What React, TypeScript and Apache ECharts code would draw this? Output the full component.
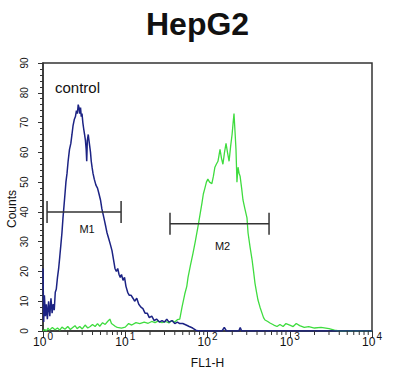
import React, { useEffect, useRef } from "react";
import * as echarts from "echarts";

const FONT = "'Liberation Sans', Arial, sans-serif";

const titleText = "HepG2";
const xAxisName = "FL1-H";
const yAxisName = "Counts";
const controlLabel = "control";

// [FL1-H channel value, counts]
const controlSeries: number[][] = [
  [1.0, 21], [1.02, 3], [1.04, 12], [1.07, 5], [1.1, 9], [1.13, 4], [1.17, 10], [1.21, 5],
  [1.25, 11], [1.29, 6], [1.33, 9], [1.37, 7], [1.41, 13], [1.45, 14], [1.5, 18], [1.55, 21],
  [1.6, 25], [1.65, 29], [1.7, 33], [1.75, 38], [1.8, 42], [1.85, 46], [1.9, 50], [1.96, 53],
  [2.02, 57], [2.1, 61], [2.18, 63], [2.25, 66], [2.32, 69], [2.4, 71], [2.48, 72], [2.55, 74],
  [2.62, 73], [2.68, 76], [2.74, 75], [2.8, 73], [2.86, 75], [2.92, 72], [2.98, 73], [3.05, 70],
  [3.12, 68], [3.2, 66], [3.28, 64], [3.35, 61], [3.4, 57], [3.46, 64], [3.55, 66], [3.62, 64],
  [3.7, 62], [3.78, 60], [3.86, 57], [3.95, 55], [4.05, 53], [4.2, 51], [4.4, 49], [4.6, 48],
  [4.8, 46], [5.0, 44], [5.2, 41], [5.4, 39], [5.6, 37], [5.8, 35], [6.0, 33], [6.3, 31],
  [6.6, 29], [6.9, 27], [7.2, 24], [7.5, 21], [7.8, 20], [8.1, 21], [8.4, 19], [8.7, 18],
  [9.0, 19], [9.4, 17], [9.8, 18], [10.2, 15], [10.7, 13], [11.2, 12], [11.8, 12], [12.4, 11],
  [13.0, 10], [13.8, 11], [14.6, 9], [15.5, 8], [16.4, 7.5], [17.4, 6], [18.5, 6], [19.6, 4.5],
  [21, 5], [22.5, 3.5], [24, 4], [26, 3], [28, 3.5], [30, 3], [32, 4], [34, 3],
  [37, 3.5], [40, 2.5], [43, 3], [46, 2.5], [50, 2.5], [55, 2], [60, 1.5], [66, 1],
  [72, 0.3], [78, 0], [150, 0], [160, 1.2], [170, 0], [240, 0], [250, 1.2], [260, 0], [10000, 0],
];

const sampleSeries: number[][] = [
  [1.0, 0], [1.05, 0.5], [1.1, 0], [1.15, 1], [1.2, 0.3], [1.3, 1.2], [1.4, 0.4], [1.5, 1],
  [1.6, 0.3], [1.7, 1.3], [1.85, 0.6], [2.0, 1.5], [2.15, 0.5], [2.3, 1.2], [2.45, 1.8], [2.6, 0.8],
  [2.8, 1.5], [3.0, 0.7], [3.25, 2.0], [3.5, 1.0], [3.75, 1.5], [4.0, 2.2], [4.3, 1.5], [4.6, 2.5],
  [4.9, 1.6], [5.3, 2.8], [5.7, 2.2], [6.1, 3.2], [6.5, 4], [6.8, 2.5], [7.2, 2], [7.6, 1.5],
  [8.0, 1.2], [9, 1], [10, 1.3], [11, 2.5], [12, 2], [13.5, 2.8], [15, 2.5], [17, 3],
  [19, 2.6], [21, 3.2], [23, 2.8], [25, 3.3], [28, 2.8], [31, 3.2], [34, 2.7], [37, 3.5],
  [40, 3], [43, 3.8], [46, 4], [49, 8], [53, 12.5], [56, 15], [58, 18], [62, 22],
  [66.5, 26], [71, 30], [76.5, 35], [81, 39], [85.7, 43], [89, 46], [93, 48], [97, 50],
  [101, 51], [106, 50], [113, 49.5], [118, 52], [123, 55], [128, 56], [134, 57], [138, 59],
  [142, 61], [148, 58], [154, 56], [161, 60], [168, 63], [175, 60], [183, 57], [191, 62],
  [199, 66], [205, 70], [210, 73], [216, 67], [222, 61], [228, 50], [235, 55], [242, 53],
  [249, 52], [260, 48], [270, 44], [285, 41], [302, 38], [311, 33], [330, 28], [348, 24],
  [363, 20], [378, 16], [395, 13], [411, 10.4], [435, 8], [460, 6], [480, 4.5], [500, 3.7],
  [540, 3.2], [575, 2.7], [640, 2], [700, 1.5], [760, 2.2], [830, 1.5], [900, 2.5], [1000, 2],
  [1100, 1.5], [1200, 2.5], [1320, 1.8], [1500, 1.2], [1700, 1.5], [2000, 1], [2400, 1.2],
  [3000, 0.8], [3500, 0.3], [4000, 0], [10000, 0],
];

// gate markers: [from, to, level, label level]
const markerNames = ["M1", "M2"];
const markerGates: number[][] = [
  [1.12, 8.9, 40, 34.3],
  [35, 560, 36, 28.5],
];

const xMinorTicks: number[] = [];
for (const d of [1, 10, 100, 1000]) {
  for (let k = 2; k <= 9; k++) xMinorTicks.push(d * k);
}

export default function App() {
  const ref = useRef<HTMLDivElement>(null);
  useEffect(() => {
    document.body.style.margin = "0";
    const chart = echarts.init(ref.current!, null, { renderer: "svg" });
    chart.setOption({
      animation: false,
      backgroundColor: "#ffffff",
      title: {
        text: titleText,
        left: 141,
        top: 3,
        textStyle: { fontSize: 32, fontWeight: "bold", fontFamily: FONT, color: "#111" },
      },
      grid: {
        left: 43,
        top: 63,
        width: 329,
        height: 268,
        containLabel: false,
        outerBoundsMode: "none",
        show: true,
        borderColor: "#333",
        borderWidth: 1.5,
      },
      xAxis: {
        type: "log",
        logBase: 10,
        min: 1,
        max: 10000,
        name: xAxisName,
        nameLocation: "middle",
        nameGap: 26,
        nameMoveOverlap: false,
        nameTextStyle: { fontSize: 12, fontFamily: FONT, color: "#111" },
        axisLine: { lineStyle: { color: "#333", width: 1.5 } },
        axisTick: { length: 6, lineStyle: { color: "#333" } },
        splitLine: { show: false },
        axisLabel: {
          margin: 5,
          fontFamily: FONT,
          color: "#111",
          formatter: (v: number) => `{b|10}{s|${Math.round(Math.log10(v))}}`,
          rich: {
            b: { fontSize: 12, lineHeight: 12, fontFamily: FONT, color: "#111" },
            s: { fontSize: 10, lineHeight: 10, padding: [0, 0, 12, 1], fontFamily: FONT, color: "#111" },
          },
        },
      },
      yAxis: {
        type: "value",
        min: 0,
        max: 90,
        interval: 10,
        name: yAxisName,
        nameLocation: "middle",
        nameGap: 25,
        nameMoveOverlap: false,
        nameTextStyle: { fontSize: 12, fontFamily: FONT, color: "#111", padding: [0, 24, 0, 0] },
        axisLine: { show: true, lineStyle: { color: "#333", width: 1.5 } },
        axisTick: { show: true, length: 5, lineStyle: { color: "#333" } },
        minorTick: { show: true, splitNumber: 5, length: 3, lineStyle: { color: "#333" } },
        splitLine: { show: false },
        axisLabel: { rotate: 90, margin: 14, fontSize: 10, fontFamily: FONT, color: "#111" },
      },
      graphic: [
        {
          type: "text",
          left: 55,
          top: 80,
          style: { text: controlLabel, fontSize: 15, fontFamily: FONT, fill: "#111" },
        },
      ],
      series: [
        {
          type: "line",
          data: sampleSeries,
          showSymbol: false,
          lineStyle: { color: "#3fdc3f", width: 1.3 },
          z: 3,
        },
        {
          type: "line",
          data: controlSeries,
          showSymbol: false,
          lineStyle: { color: "#1c2384", width: 1.5 },
          z: 4,
        },
        {
          type: "custom",
          data: xMinorTicks.map((v) => [v, 0]),
          encode: { x: 0, y: 1 },
          silent: true,
          clip: false,
          renderItem: (_p: any, api: any) => {
            const p = api.coord([api.value(0), 0]);
            return {
              type: "line",
              shape: { x1: p[0], y1: p[1], x2: p[0], y2: p[1] + 4 },
              style: { stroke: "#333", lineWidth: 1 },
            };
          },
          z: 5,
        },
        {
          type: "custom",
          data: markerGates,
          encode: { x: [0, 1], y: [2, 3] },
          silent: true,
          renderItem: (params: any, api: any) => {
            const x1 = api.value(0);
            const x2 = api.value(1);
            const lvl = api.value(2);
            const ll = api.value(3);
            const a = api.coord([x1, lvl]);
            const b = api.coord([x2, lvl]);
            const c = api.coord([Math.sqrt(x1 * x2), ll]);
            const stroke = { stroke: "#333", lineWidth: 1.5 };
            return {
              type: "group",
              children: [
                { type: "line", shape: { x1: a[0], y1: a[1], x2: b[0], y2: b[1] }, style: stroke },
                { type: "line", shape: { x1: a[0], y1: a[1] - 11, x2: a[0], y2: a[1] + 11 }, style: stroke },
                { type: "line", shape: { x1: b[0], y1: b[1] - 11, x2: b[0], y2: b[1] + 11 }, style: stroke },
                {
                  type: "text",
                  x: c[0] + 3,
                  y: c[1],
                  style: {
                    text: markerNames[params.dataIndex],
                    fontSize: 11,
                    fontFamily: FONT,
                    fill: "#111",
                    align: "center",
                    verticalAlign: "middle",
                  },
                },
              ],
            };
          },
          z: 6,
        },
      ],
    });
    return () => chart.dispose();
  }, []);
  return <div ref={ref} style={{ width: 400, height: 387 }} />;
}
